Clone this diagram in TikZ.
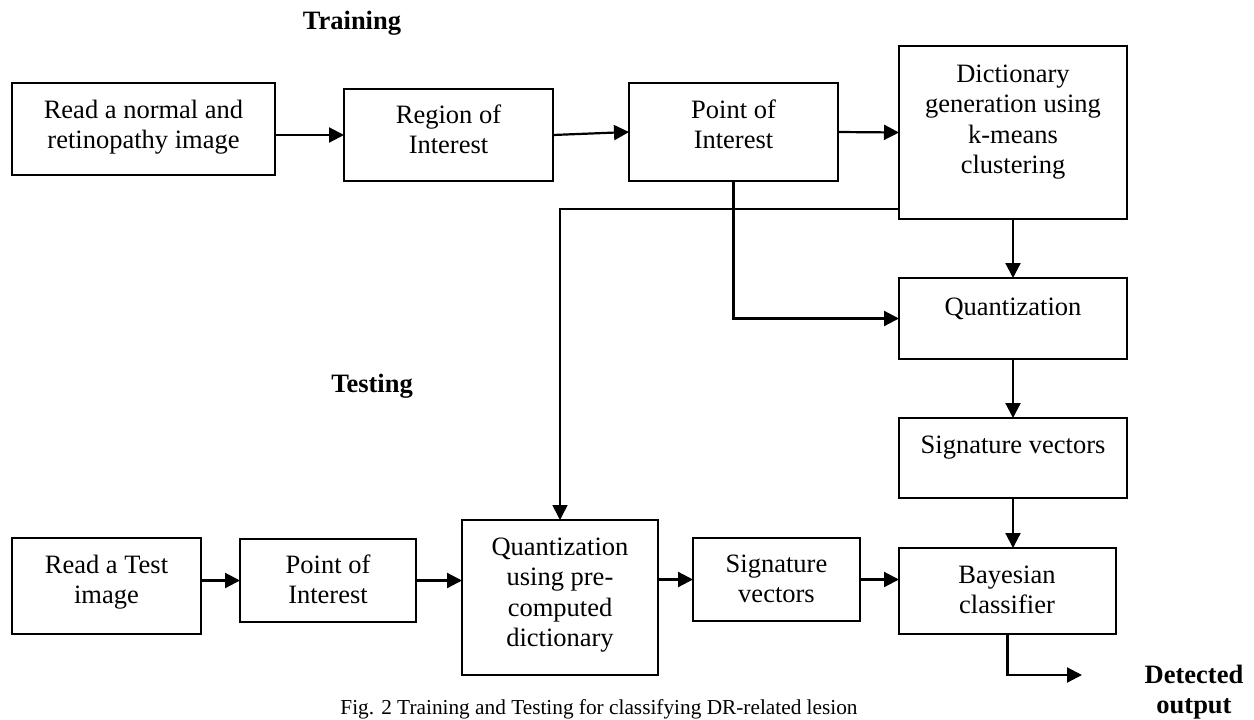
\documentclass[tikz,border=0pt]{standalone}
\usepackage{fontspec}
\setmainfont{Liberation Serif}
\usetikzlibrary{arrows.meta,calc}
\newcommand{\ml}[1]{\begin{tabular}[t]{@{}c@{}}#1\end{tabular}}
\begin{document}
\begin{tikzpicture}[x=1pt,y=-1pt,
  blk/.style={draw, line width=2pt, inner sep=0pt, outer sep=0pt},
  txt/.style={anchor=base, inner sep=0pt, font=\fontsize{26.5}{30.5}\selectfont},
  lbl/.style={anchor=base, inner sep=0pt, font=\fontsize{26.5}{30.5}\selectfont\bfseries},
  figcap/.style={anchor=base, inner sep=0pt, font=\fontsize{21.3}{25}\selectfont},
  arr/.style={line width=2.2pt, -{Triangle[length=15pt,width=15pt]}},
  thinarr/.style={line width=1.5pt, -{Triangle[length=15pt,width=15pt]}}
]
\useasboundingbox (0,0) rectangle (1254,720);

% ---- boxes ----
\node[blk, minimum width=263pt, minimum height=92pt]  (A)   at (143.5,129)  {};
\node[blk, minimum width=209pt, minimum height=92pt]  (B)   at (448.5,135)  {};
\node[blk, minimum width=209pt, minimum height=98pt]  (C)   at (733.5,132)  {};
\node[blk, minimum width=228pt, minimum height=173pt] (D)   at (1013,132.5) {};
\node[blk, minimum width=228pt, minimum height=81pt]  (Qtr) at (1013,318.5) {};
\node[blk, minimum width=228pt, minimum height=80pt]  (Str) at (1013,458)   {};
\node[blk, minimum width=217pt, minimum height=86pt]  (Bay) at (1007.5,591) {};
\node[blk, minimum width=189pt, minimum height=96pt]  (RT)  at (106.5,586)  {};
\node[blk, minimum width=176pt, minimum height=83pt]  (PT)  at (328,580.5)  {};
\node[blk, minimum width=196pt, minimum height=155pt] (Qt)  at (560,597.5)  {};
\node[blk, minimum width=167pt, minimum height=83pt]  (St)  at (776.5,579.5) {};

% ---- texts ----
\node[txt] (At)   at (143.5,118) {\ml{Read a normal and\\retinopathy image}};
\node[txt] (Bt)   at (448.5,123) {\ml{Region of\\Interest}};
\node[txt] (Ct)   at (733.5,118) {\ml{Point of\\Interest}};
\node[txt] (Dt)   at (1013,82)   {\ml{Dictionary\\generation using\\k-means\\clustering}};
\node[txt] (Qtrt) at (1013,315)  {Quantization};
\node[txt] (Strt) at (1013,453)  {Signature vectors};
\node[txt] (Bayt) at (1007,583)  {\ml{Bayesian\\classifier}};
\node[txt] (RTt)  at (106.5,573) {\ml{Read a Test\\image}};
\node[txt] (PTt)  at (328,573)   {\ml{Point of\\Interest}};
\node[txt] (Qtt)  at (560,555)   {\ml{Quantization\\using pre-\\computed\\dictionary}};
\node[txt] (Stt)  at (776.5,572) {\ml{Signature\\vectors}};

\node[lbl] (train) at (352,30)  {Training};
\node[lbl] (test)  at (372,392) {Testing};
\node[lbl] (det)   at (1194,683) {\ml{Detected\\output}};
\node[figcap] (caption) at (599,714) {Fig. 2 Training and Testing for classifying DR-related lesion};

\coordinate (out) at (1082,675);

% ---- connectors ----
\draw[arr] (A.east |- B.west) -- (B.west);
\draw[arr] (B.east) -- (C.west);
\draw[arr] (C.east) -- (D.west);
\draw[arr] (D.south) -- (Qtr.north);
\draw[arr] (C.south) |- (Qtr.west);
\draw[thinarr] ($(D.south west)+(0,-10)$) -| (Qt.north);
\draw[arr] (Qtr.south) -- (Str.north);
\draw[arr] (Str.south) -- (Str.south |- Bay.north);
\draw[arr] (Bay.south) |- (out);
\draw[arr] (RT.east |- PT.west) -- (PT.west);
\draw[arr] (PT.east) -- (PT.east -| Qt.west);
\draw[arr] (Qt.east |- St.west) -- (St.west);
\draw[arr] (St.east) -- (St.east -| Bay.west);
\end{tikzpicture}
\end{document}
